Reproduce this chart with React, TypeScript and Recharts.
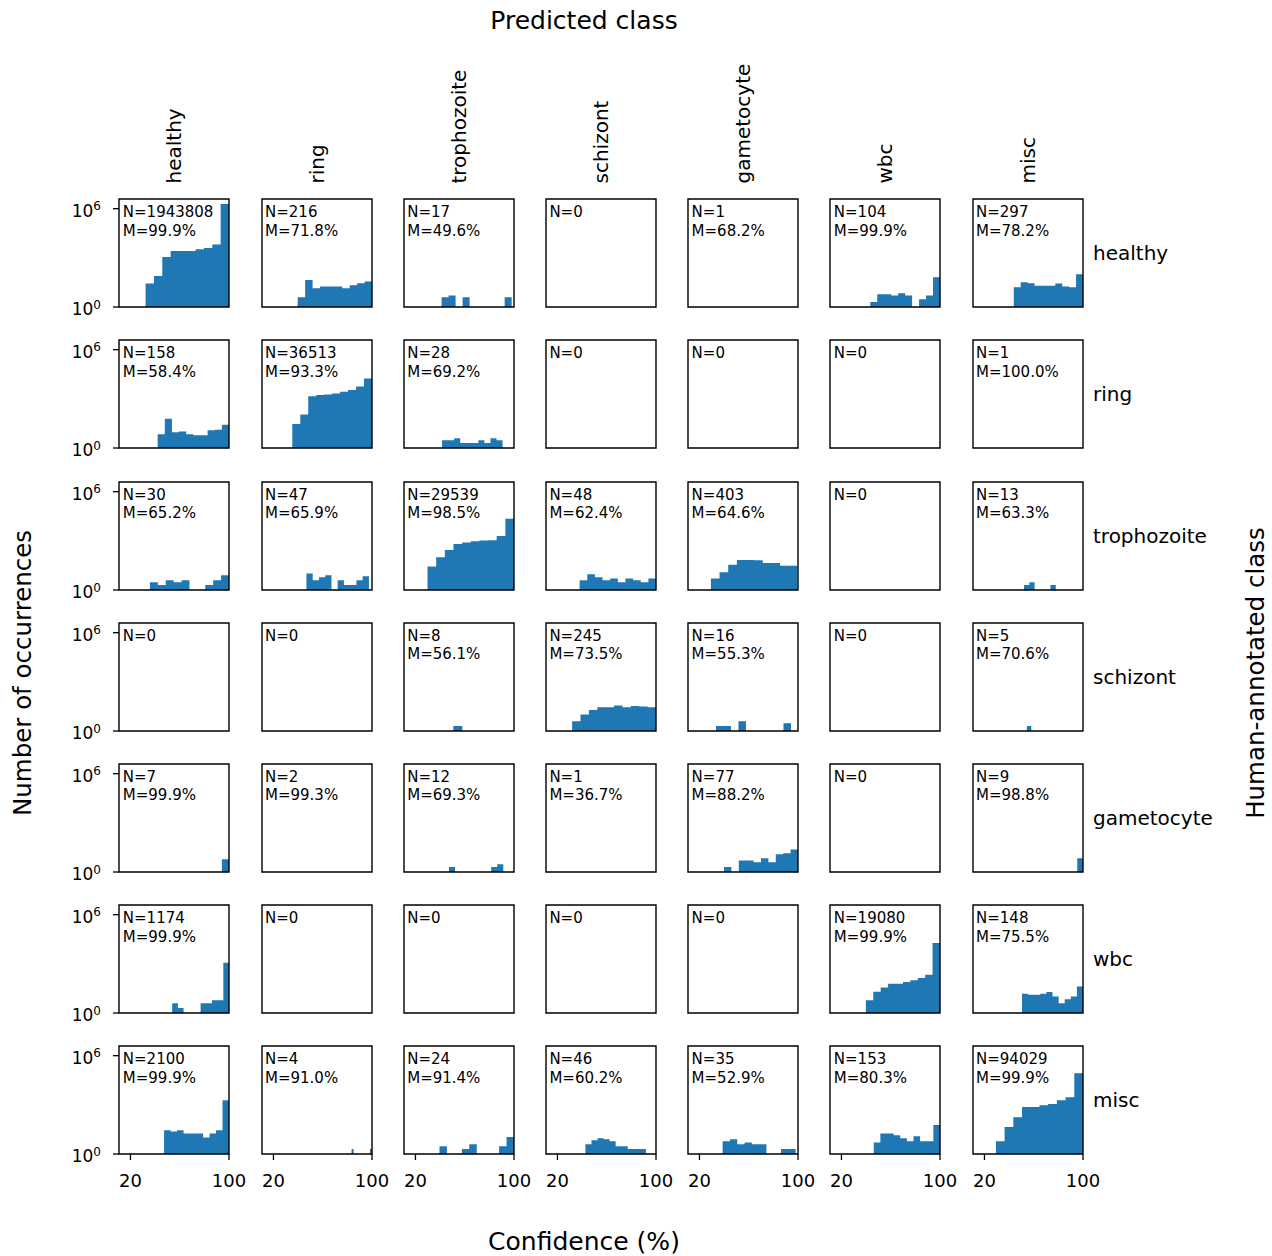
import React from 'react';
import { AreaChart, Area, XAxis, YAxis, ReferenceArea } from 'recharts';

// confusion-matrix of confidence histograms (log counts), one panel per cell

type Panel = { n: number; median?: number; lo?: number; hi?: number; counts?: number[] };

const predictedClasses = ['healthy', 'ring', 'trophozoite', 'schizont', 'gametocyte', 'wbc', 'misc'];
const annotatedClasses = ['healthy', 'ring', 'trophozoite', 'schizont', 'gametocyte', 'wbc', 'misc'];
const xTicks = [20, 100];
const yTicks = [1, 1e6];

const healthyRow: Panel[] = [
  { n: 1943808, median: 99.9, lo: 32.3, hi: 100, counts: [27, 78, 1130, 2650, 2650, 2650, 3300, 4000, 6400, 1920900] },
  { n: 216, median: 71.8, lo: 39.7, hi: 100, counts: [4, 45, 14, 18, 18, 18, 14, 21, 28, 36] },
  { n: 17, median: 49.6, lo: 41.2, hi: 98.1, counts: [4, 5, 0, 4, 0, 0, 0, 0, 0, 4] },
  { n: 0 },
  { n: 1, median: 68.2, lo: 67.7, hi: 68.7, counts: [0, 0, 0, 0, 0, 1, 0, 0, 0, 0] },
  { n: 104, median: 99.9, lo: 43.4, hi: 100, counts: [2, 6, 6, 5, 7, 5, 0, 3, 5, 65] },
  { n: 297, median: 78.2, lo: 43.8, hi: 100, counts: [16, 32, 28, 20, 20, 20, 27, 18, 16, 100] },
];

const ringRow: Panel[] = [
  { n: 158, median: 58.4, lo: 42.1, hi: 100, counts: [7, 62, 9, 10, 7, 6, 6, 12, 13, 26] },
  { n: 36513, median: 93.3, lo: 35.3, hi: 100, counts: [29, 109, 1440, 1730, 1860, 2140, 2700, 3450, 5600, 17455] },
  { n: 28, median: 69.2, lo: 41.6, hi: 90.7, counts: [3, 3, 4, 2, 2, 2, 3, 2, 4, 3] },
  { n: 0 },
  { n: 0 },
  { n: 0 },
  { n: 1, median: 100.0, lo: 99.5, hi: 100.5, counts: [0, 0, 0, 0, 0, 1, 0, 0, 0, 0] },
];

const trophozoiteRow: Panel[] = [
  { n: 30, median: 65.2, lo: 35.8, hi: 100, counts: [3, 2, 4, 3, 4, 0, 0, 2, 4, 8] },
  { n: 47, median: 65.9, lo: 46.8, hi: 97.5, counts: [10, 4, 6, 8, 0, 4, 2, 2, 4, 7] },
  { n: 29539, median: 98.5, lo: 29.8, hi: 100, counts: [27, 99, 277, 650, 780, 940, 1040, 1100, 2000, 22626] },
  { n: 48, median: 62.4, lo: 38.0, hi: 100, counts: [4, 9, 6, 4, 5, 3, 5, 4, 3, 5] },
  { n: 403, median: 64.6, lo: 29.3, hi: 99.5, counts: [5, 12, 35, 68, 68, 66, 45, 44, 30, 30] },
  { n: 0 },
  { n: 13, median: 63.3, lo: 43.5, hi: 86.5, counts: [1, 0, 2, 3, 1, 1, 1, 2, 1, 1] },
];

const schizontRow: Panel[] = [
  { n: 0 },
  { n: 0 },
  { n: 8, median: 56.1, lo: 21.5, hi: 94.5, counts: [1, 0, 1, 1, 2, 1, 0, 1, 0, 1] },
  { n: 245, median: 73.5, lo: 31.9, hi: 100, counts: [4, 10, 19, 28, 28, 36, 28, 33, 31, 28] },
  { n: 16, median: 55.3, lo: 33.4, hi: 94.3, counts: [2, 2, 1, 4, 1, 1, 1, 0, 1, 3] },
  { n: 0 },
  { n: 5, median: 70.6, lo: 54.4, hi: 90.4, counts: [2, 0, 0, 0, 1, 0, 1, 0, 0, 1] },
];

const gametocyteRow: Panel[] = [
  { n: 7, median: 99.9, lo: 42.0, hi: 100, counts: [1, 0, 0, 0, 0, 0, 0, 0, 0, 6] },
  { n: 2, median: 99.3, lo: 98.7, hi: 99.9, counts: [1, 0, 0, 0, 0, 0, 0, 0, 0, 1] },
  { n: 12, median: 69.3, lo: 42.3, hi: 91.3, counts: [1, 2, 0, 1, 1, 1, 1, 0, 2, 3] },
  { n: 1, median: 36.7, lo: 36.2, hi: 37.2, counts: [0, 0, 0, 0, 0, 1, 0, 0, 0, 0] },
  { n: 77, median: 88.2, lo: 39.9, hi: 100, counts: [2, 0, 5, 5, 4, 7, 4, 12, 14, 24] },
  { n: 0 },
  { n: 9, median: 98.8, lo: 53.5, hi: 100, counts: [1, 0, 0, 0, 0, 1, 0, 0, 0, 7] },
];

const wbcRow: Panel[] = [
  { n: 1174, median: 99.9, lo: 53.9, hi: 100, counts: [4, 2, 0, 0, 0, 4, 4, 6, 6, 1148] },
  { n: 0 },
  { n: 0 },
  { n: 0 },
  { n: 0 },
  { n: 19080, median: 99.9, lo: 39.8, hi: 100, counts: [6, 20, 36, 62, 62, 79, 99, 137, 218, 18361] },
  { n: 148, median: 75.5, lo: 50.5, hi: 100, counts: [15, 13, 13, 15, 19, 10, 4, 7, 10, 42] },
];

const miscRow: Panel[] = [
  { n: 2100, median: 99.9, lo: 47.3, hi: 100, counts: [28, 24, 28, 18, 18, 18, 10, 18, 28, 1910] },
  { n: 4, median: 91.0, lo: 83.4, hi: 100, counts: [2, 0, 0, 0, 0, 0, 0, 0, 0, 2] },
  { n: 24, median: 91.4, lo: 39.5, hi: 100, counts: [3, 0, 0, 2, 4, 0, 1, 0, 3, 11] },
  { n: 46, median: 60.2, lo: 42.7, hi: 91.8, counts: [4, 7, 9, 8, 6, 3, 3, 2, 2, 2] },
  { n: 35, median: 52.9, lo: 38.8, hi: 98.1, counts: [6, 8, 4, 5, 4, 4, 0, 0, 2, 2] },
  { n: 153, median: 80.3, lo: 46.2, hi: 100, counts: [5, 18, 18, 14, 9, 6, 12, 6, 6, 59] },
  { n: 94029, median: 99.9, lo: 29.3, hi: 100, counts: [6, 45, 174, 740, 740, 940, 1130, 1900, 2900, 85454] },
];

const rows = [healthyRow, ringRow, trophozoiteRow, schizontRow, gametocyteRow, wbcRow, miscRow];

const FONT = '"DejaVu Sans", sans-serif';
const BLUE = '#1f77b4';
const XMIN = 10.7;
const XMAX = 100;
const YMAX = Math.pow(10, 6.59);
const PW = 110;
const PH = 108;
const COL0 = 119.3;
const COL_STEP = 142.2;
const ROW0 = 199.3;
const ROW_STEP = 141.1;
const MARGIN = { top: 14, right: 24, bottom: 14, left: 4 };

const PowerTick = (props: any) => {
  const { x, y, payload } = props;
  const exp = Math.round(Math.log10(payload.value));
  return (
    <text x={x} y={y} textAnchor="end" fill="#000" fontSize={17} fontFamily={FONT}>
      <tspan dy="0.48em">10</tspan>
      <tspan dy="-0.55em" fontSize={12}>{exp}</tspan>
    </text>
  );
};

// step outline of a 10-bin histogram: one point per bin edge
const toSteps = (p: Panel) => {
  if (!p.counts || p.lo === undefined || p.hi === undefined) return [];
  const w = (p.hi - p.lo) / p.counts.length;
  const pts = p.counts.map((c, i) => ({ x: p.lo! + i * w, y: Math.max(c, 1) }));
  pts.push({ x: p.hi, y: Math.max(p.counts[p.counts.length - 1], 1) });
  return pts;
};

const HistPanel = ({ panel, row, col }: { panel: Panel; row: number; col: number }) => {
  const showY = col === 0;
  const showX = row === rows.length - 1;
  const yw = showY ? 60 : 0;
  const xh = showX ? 36 : 0;
  const data = toSteps(panel);
  const left = COL0 + col * COL_STEP - MARGIN.left - yw;
  const top = ROW0 + row * ROW_STEP - MARGIN.top;

  return (
    <div style={{ position: 'absolute', left, top }}>
      <AreaChart
        width={MARGIN.left + yw + PW + MARGIN.right}
        height={MARGIN.top + PH + xh + MARGIN.bottom}
        data={data.length ? data : [{ x: XMIN }, { x: XMAX }]}
        margin={MARGIN}
      >
        <XAxis
          dataKey="x"
          type="number"
          domain={[XMIN, XMAX]}
          allowDataOverflow
          ticks={xTicks}
          interval={0}
          hide={!showX}
          height={xh}
          axisLine={false}
          tickSize={6}
          tickMargin={14}
          tickLine={{ stroke: '#000', strokeWidth: 1.3 }}
          tick={{ fontSize: 18, fill: '#000', fontFamily: FONT }}
        />
        <YAxis
          type="number"
          scale="log"
          domain={[1, YMAX]}
          allowDataOverflow
          ticks={yTicks}
          interval={0}
          hide={!showY}
          width={yw}
          axisLine={false}
          tickSize={6}
          tickMargin={12}
          tickLine={{ stroke: '#000', strokeWidth: 1.3 }}
          tick={<PowerTick />}
        />
        {data.length > 0 && (
          <Area
            type="stepAfter"
            dataKey="y"
            baseValue={1}
            fill={BLUE}
            fillOpacity={1}
            stroke="none"
            isAnimationActive={false}
          />
        )}
        <ReferenceArea
          x1={XMIN}
          x2={XMAX}
          y1={1}
          y2={YMAX}
          fill="none"
          stroke="#000"
          strokeWidth={1.4}
          ifOverflow="visible"
        />
      </AreaChart>
    </div>
  );
};

export default function App() {
  const gridMidY = 673;
  return (
    <div style={{ position: 'relative', width: 1272, height: 1256, background: '#fff', fontFamily: FONT }}>
      <style>{'body{margin:0}'}</style>
      {rows.map((r, ri) => r.map((p, ci) => <HistPanel key={`${ri}-${ci}`} panel={p} row={ri} col={ci} />))}
      <svg width={1272} height={1256} style={{ position: 'absolute', left: 0, top: 0, pointerEvents: 'none' }} fontFamily={FONT}>
        <text x={584} y={20} textAnchor="middle" dominantBaseline="central" fontSize={25}>Predicted class</text>
        <text x={584} y={1241} textAnchor="middle" dominantBaseline="central" fontSize={25}>Confidence (%)</text>
        <text transform={`translate(22, ${gridMidY}) rotate(-90)`} textAnchor="middle" dominantBaseline="central" fontSize={24.5}>
          Number of occurrences
        </text>
        <text transform={`translate(1255, ${gridMidY}) rotate(-90)`} textAnchor="middle" dominantBaseline="central" fontSize={24.5}>
          Human-annotated class
        </text>
        {predictedClasses.map((c, i) => (
          <text
            key={c}
            transform={`translate(${COL0 + i * COL_STEP + PW / 2}, 183.5) rotate(-90)`}
            textAnchor="start"
            dominantBaseline="central"
            fontSize={20}
          >
            {c}
          </text>
        ))}
        {annotatedClasses.map((c, i) => (
          <text key={c} x={1093} y={ROW0 + i * ROW_STEP + PH / 2} dominantBaseline="central" fontSize={20}>
            {c}
          </text>
        ))}
        {rows.map((r, ri) =>
          r.map((p, ci) => {
            const x = COL0 + ci * COL_STEP + 3.5;
            const y = ROW0 + ri * ROW_STEP;
            return (
              <text key={`t${ri}-${ci}`} fontSize={15} fill="#000">
                <tspan x={x} y={y + 18}>{`N=${p.n}`}</tspan>
                {p.n > 0 && p.median !== undefined && (
                  <tspan x={x} y={y + 36.7}>{`M=${p.median.toFixed(1)}%`}</tspan>
                )}
              </text>
            );
          })
        )}
      </svg>
    </div>
  );
}
